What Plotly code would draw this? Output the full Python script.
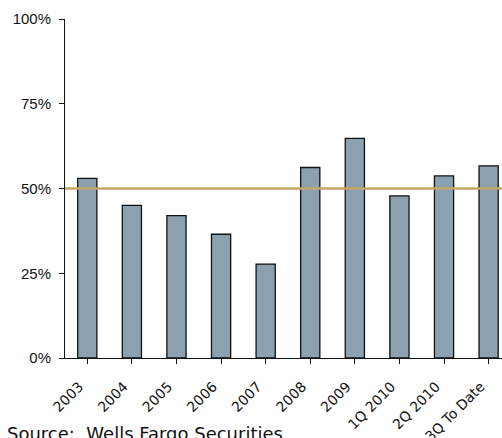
import plotly.graph_objects as go

categories = ["2003", "2004", "2005", "2006", "2007", "2008", "2009", "1Q 2010", "2Q 2010", "3Q To Date"]
values = [53, 45, 42, 36.5, 27.7, 56.2, 64.8, 47.8, 53.7, 56.7]
reference_level = 50
y_ticks = [0, 25, 50, 75, 100]
y_tick_labels = ["0%", "25%", "50%", "75%", "100%"]
source_text = "Source:  Wells Fargo Securities"

fig = go.Figure()
fig.add_trace(go.Bar(
    x=list(range(len(categories))), y=values,
    marker=dict(color="#8ba1af", line=dict(color="#111111", width=1.3)),
    width=0.43,
))
fig.add_shape(type="line", xref="paper", x0=0, x1=1, yref="y", y0=reference_level, y1=reference_level,
              line=dict(color="#c4a765", width=2.5), layer="above")

fig.update_layout(
    width=502, height=438,
    margin=dict(l=65, r=0, t=19, b=80),
    plot_bgcolor="white", paper_bgcolor="white",
    showlegend=False,
    font=dict(family="Liberation Sans, Arial", color="#111111"),
    xaxis=dict(
        range=[-0.5, 9.3],
        tickmode="array", tickvals=list(range(len(categories))), ticktext=categories,
        tickangle=-45, tickfont=dict(size=14, family="DejaVu Sans"),
        showline=True, linecolor="#111111", linewidth=1,
        ticks="outside", ticklen=5, tickcolor="#111111",
        tickson="boundaries",
        ticklabelshift=-8, ticklabelstandoff=9,
        showgrid=False, zeroline=False, automargin=False,
    ),
    yaxis=dict(
        range=[0, 100],
        tickmode="array", tickvals=y_ticks, ticktext=y_tick_labels,
        tickfont=dict(size=15),
        showline=True, linecolor="#111111", linewidth=1,
        ticks="outside", ticklen=5, tickcolor="#111111",
        ticklabelstandoff=5,
        showgrid=False, zeroline=False, automargin=False,
    ),
    annotations=[dict(text=source_text, xref="paper", yref="paper", x=-60/437, y=(358-421)/339,
                      xanchor="left", yanchor="top", showarrow=False,
                      font=dict(size=18, family="DejaVu Sans", color="#111111"))],
)

fig.write_html("out.html")
